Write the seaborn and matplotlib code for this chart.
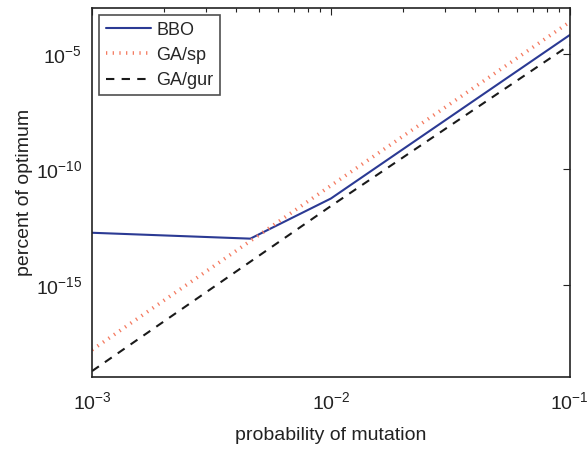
import numpy as np
import pandas as pd
import matplotlib
matplotlib.use("Agg")
import matplotlib.pyplot as plt
import seaborn as sns

# values
bbo_x = [0.001, 0.0046, 0.01, 0.1]
bbo_y = [1.8e-13, 1.0e-13, 5.5e-12, 6.8e-5]
gasp_x = [0.001, 0.01, 0.1]
gasp_y = [1.5e-18, 2.0e-11, 2.5e-4]
gagur_x = [0.001, 0.01, 0.1]
gagur_y = [1.8e-19, 2.6e-12, 2.5e-5]

x_ticks = [1e-3, 1e-2, 1e-1]
x_labels = [r"$10^{-3}$", r"$10^{-2}$", r"$10^{-1}$"]
y_ticks = [1e-15, 1e-10, 1e-5]
y_labels = [r"$10^{-15}$", r"$10^{-10}$", r"$10^{-5}$"]

sns.set_style("white")
plt.rcParams["font.family"] = ["Liberation Sans", "DejaVu Sans"]
plt.rcParams["mathtext.fontset"] = "custom"
plt.rcParams["mathtext.rm"] = "Liberation Sans"
plt.rcParams["mathtext.it"] = "Liberation Sans"
plt.rcParams["mathtext.default"] = "regular"

fig = plt.figure(figsize=(5.88, 4.49), dpi=100)
ax = fig.add_axes([0.1565, 0.1604, 0.8125, 0.8216])

sns.lineplot(x=bbo_x, y=bbo_y, ax=ax, color="#2b3a94", lw=1.5, label="BBO")
sns.lineplot(x=gasp_x, y=gasp_y, ax=ax, color="#f47a60", lw=2.6, label="GA/sp")
sns.lineplot(x=gagur_x, y=gagur_y, ax=ax, color="#1a1a1a", lw=1.5, label="GA/gur")

lines = ax.get_lines()
lines[1].set_linestyle((0, (0.35, 1.5)))
lines[1].set_dash_capstyle("butt")
lines[2].set_linestyle((0, (4, 3.5)))

ax.set_xscale("log")
ax.set_yscale("log")
ax.set_xlim(1e-3, 1e-1)
ax.set_ylim(1e-19, 1e-3)
ax.set_xticks(x_ticks)
ax.set_xticklabels(x_labels)
ax.set_yticks(y_ticks)
ax.set_yticklabels(y_labels)
ax.yaxis.set_minor_locator(matplotlib.ticker.NullLocator())
ax.xaxis.set_minor_locator(matplotlib.ticker.LogLocator(base=10, subs=np.arange(2, 10)))
ax.xaxis.set_minor_formatter(matplotlib.ticker.NullFormatter())

ax.tick_params(axis="both", which="both", direction="in", top=True, right=True,
               labelsize=14, colors="#222222")
ax.tick_params(axis="x", which="major", length=5, width=0.8, pad=10)
ax.tick_params(axis="y", which="major", length=5, width=0.8, pad=7)
ax.tick_params(axis="both", which="minor", length=3, width=0.8)
for s in ax.spines.values():
    s.set_color("#222222")
    s.set_linewidth(1.2)

ax.set_xlabel("probability of mutation", fontsize=14, color="#222222", labelpad=10)
ax.set_ylabel("percent of optimum", fontsize=14, color="#222222", labelpad=2)

leg = ax.legend(loc="upper left", fontsize=13, frameon=True, fancybox=False,
                edgecolor="#222222", handlelength=2.5, handletextpad=0.3,
                borderaxespad=0.4, borderpad=0.35, labelspacing=0.45)
leg.get_frame().set_linewidth(1.2)

fig.savefig("out.png", dpi=100)
